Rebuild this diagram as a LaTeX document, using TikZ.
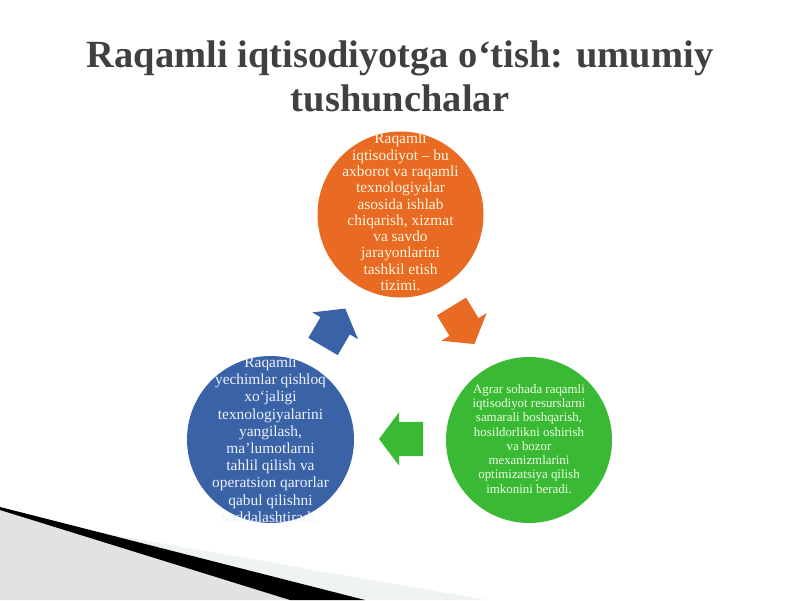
\documentclass[tikz,border=0pt]{standalone}
\usepackage{fontspec}
\setmainfont{Liberation Serif}
\definecolor{titlegray}{RGB}{64,64,64}
\definecolor{orangec}{RGB}{233,106,34}
\definecolor{greenc}{RGB}{58,186,52}
\definecolor{bluec}{RGB}{58,98,167}
\definecolor{decogray}{RGB}{224,226,227}
\definecolor{decolight}{RGB}{238,243,244}
\definecolor{otext}{RGB}{255,246,222}
\definecolor{gtext}{RGB}{236,255,228}
\definecolor{btext}{RGB}{238,242,252}
\begin{document}
\begin{tikzpicture}[x=1pt,y=1pt,
  titlestyle/.style={text=titlegray,font=\fontsize{38.5}{44}\selectfont\bfseries,anchor=base,inner sep=0pt},
  disc/.style={circle,minimum size=#1,inner sep=0pt,draw=none},
  disctext/.style={align=center,inner sep=0pt},
  blockarrow/.style={fill=#1,draw=none}]
\useasboundingbox (0,0) rectangle (800,600);
\fill[white] (0,0) rectangle (800,600);
% decoration bottom left
\fill[decolight] (100,67.5) -- (486,0) -- (365,0) -- cycle;
\fill[decogray] (0,0) -- (0,90) -- (290,0) -- cycle;
\fill[black] (0,93) -- (365,0) -- (290,0) -- (0,90) -- cycle;
% title
\node[titlestyle] (title1) at (400,532) {Raqamli iqtisodiyotga o‘tish: umumiy};
\node[titlestyle] (title2) at (400,488) {tushunchalar};
% circles
\node[disc=166pt,fill=orangec] (orange) at (400.5,385.5) {};
\node[disc=166pt,fill=greenc] (green) at (529,160) {};
\node[disc=167pt,fill=bluec] (blue) at (270.5,160.5) {};
% texts
\node[disctext,text=otext,font=\fontsize{15.4}{16.3}\selectfont] (orangetext) at (400.5,388) {Raqamli\\iqtisodiyot – bu\\axborot va raqamli\\texnologiyalar\\asosida ishlab\\chiqarish, xizmat\\va savdo\\jarayonlarini\\tashkil etish\\tizimi.};
\node[disctext,text=gtext,font=\fontsize{12.9}{14.3}\selectfont] (greentext) at (529,161.2) {Agrar sohada raqamli\\iqtisodiyot resurslarni\\samarali boshqarish,\\hosildorlikni oshirish\\va bozor\\mexanizmlarini\\optimizatsiya qilish\\imkonini beradi.};
\node[disctext,text=btext,font=\fontsize{15.4}{17.2}\selectfont] (bluetext) at (270.5,160.3) {Raqamli\\yechimlar qishloq\\xo‘jaligi\\texnologiyalarini\\yangilash,\\ma’lumotlarni\\tahlil qilish va\\operatsion qarorlar\\qabul qilishni\\soddalashtiradi.};
% cycle arrows
\fill[blockarrow=orangec,shift={(451.5,293.5)},rotate=-58.6] (0,-17) -- (24,-17) -- (24,-26.5) -- (44,0) -- (24,26.5) -- (24,17) -- (0,17) -- cycle;
\fill[blockarrow=greenc,shift={(423,161)},rotate=180] (0,-17) -- (24,-17) -- (24,-26.5) -- (44,0) -- (24,26.5) -- (24,17) -- (0,17) -- cycle;
\fill[blockarrow=bluec,shift={(323,253.5)},rotate=59.6] (0,-17) -- (24,-17) -- (24,-26.5) -- (44,0) -- (24,26.5) -- (24,17) -- (0,17) -- cycle;
\end{tikzpicture}
\end{document}
